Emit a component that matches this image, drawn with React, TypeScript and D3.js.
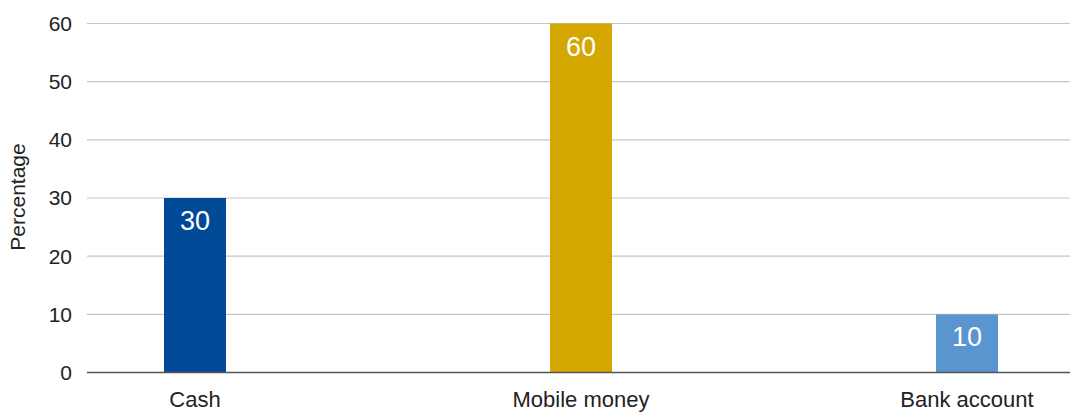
import React from "react";
import * as d3 from "d3";

const categories = ["Cash", "Mobile money", "Bank account"];
const values = [30, 60, 10];
const colors = ["#004A98", "#D4A600", "#5B95D0"];
const yTicks = [0, 10, 20, 30, 40, 50, 60];

const W = 1077;
const H = 414;
const left = 87;
const right = 1070;
const top = 23.5;
const bottom = 372.5;

export default function App() {
  const x = d3.scalePoint<string>().domain(categories).range([195, 967]);
  const y = d3.scaleLinear().domain([0, 60]).range([bottom, top]);
  const barW = 62;
  const font = "'Liberation Sans', Arial, Helvetica, sans-serif";
  return (
    <svg width={W} height={H} style={{ position: "absolute", left: 0, top: 0 }} fontFamily={font}>
      {yTicks.map((t) => (
        <g key={t}>
          {t !== 0 && (
            <line x1={left} x2={right} y1={y(t)} y2={y(t)} stroke="#c6c6c6" strokeWidth={1.2} />
          )}
          <text x={72} y={y(t)} dy="0.35em" textAnchor="end" fontSize={21} fill="#222">
            {t}
          </text>
        </g>
      ))}
      {categories.map((c, i) => (
        <g key={c}>
          <rect x={x(c)! - barW / 2} y={y(values[i])} width={barW} height={y(0) - y(values[i])} fill={colors[i]} />
          <text x={x(c)!} y={y(values[i]) + 32} textAnchor="middle" fontSize={27} fill="#fff">
            {values[i]}
          </text>
          <text x={x(c)!} y={407} textAnchor="middle" fontSize={22} fill="#222">
            {c}
          </text>
        </g>
      ))}
      <line x1={left} x2={right} y1={y(0)} y2={y(0)} stroke="#555" strokeWidth={1.5} />
      <text transform={`translate(25,197) rotate(-90)`} textAnchor="middle" fontSize={21} fill="#222">
        Percentage
      </text>
    </svg>
  );
}
